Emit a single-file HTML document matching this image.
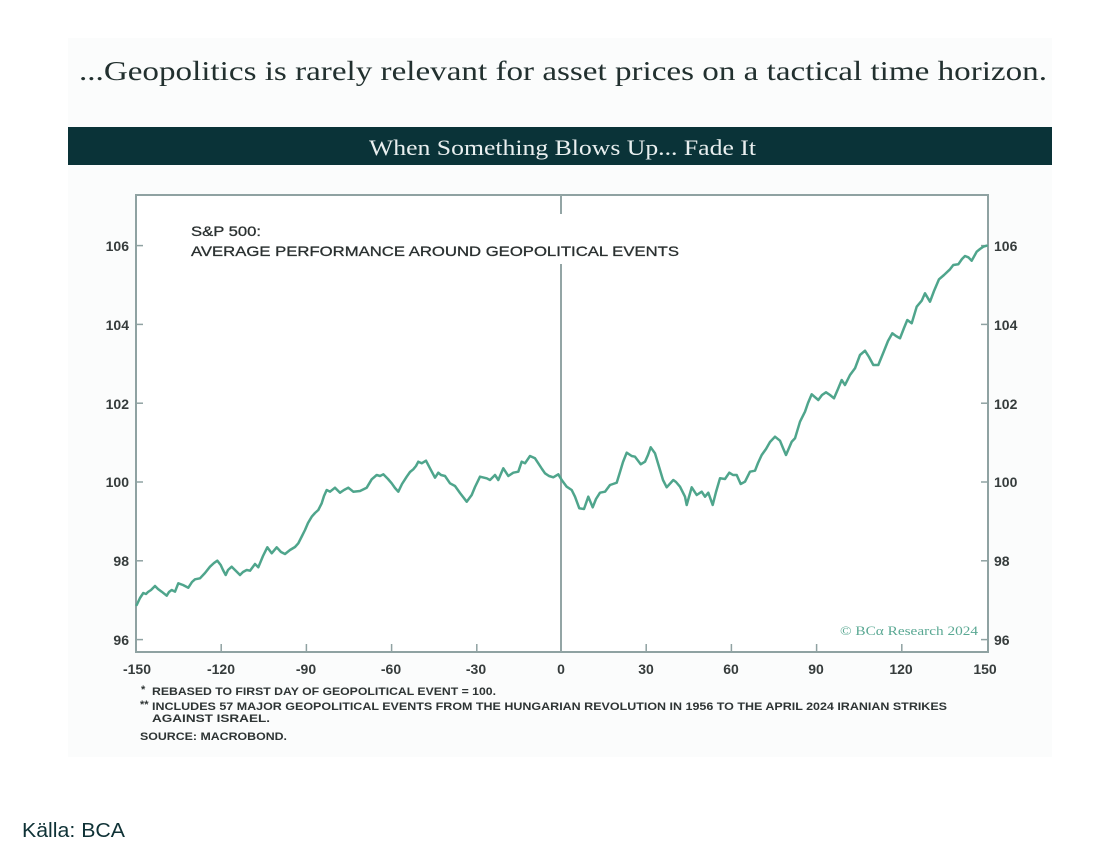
<!DOCTYPE html>
<html>
<head>
<meta charset="utf-8">
<style>
html,body{margin:0;padding:0;background:#ffffff;}
body{width:1115px;height:845px;overflow:hidden;position:relative;}
svg{position:absolute;left:0;top:0;}
</style>
</head>
<body>
<svg width="1115" height="845" viewBox="0 0 1115 845" xmlns="http://www.w3.org/2000/svg">
  <rect x="0" y="0" width="1115" height="845" fill="#ffffff"/>
  <!-- panel -->
  <rect x="68" y="38" width="984" height="719" fill="#fbfcfc"/>
  <!-- main title -->
  <text x="79" y="80" font-family="'Liberation Serif', serif" font-size="27" fill="#22302f" textLength="968" lengthAdjust="spacingAndGlyphs">...Geopolitics is rarely relevant for asset prices on a tactical time horizon.</text>
  <!-- band -->
  <rect x="68" y="127" width="984" height="38" fill="#0a3338"/>
  <text x="369" y="155" font-family="'Liberation Serif', serif" font-size="22" fill="#e9efef" textLength="387" lengthAdjust="spacingAndGlyphs">When Something Blows Up... Fade It</text>

  <!-- plot box -->
  <rect x="136" y="195" width="852" height="457" fill="#ffffff" stroke="#8fa2a2" stroke-width="2"/>
  <!-- zero vertical line -->
  <line x1="561" y1="195" x2="561" y2="214" stroke="#93a5a5" stroke-width="2"/>
  <line x1="561" y1="264" x2="561" y2="652" stroke="#93a5a5" stroke-width="2"/>

  <!-- y ticks -->
  <g stroke="#8fa2a2" stroke-width="1.5">
    <line x1="136" y1="245.6" x2="143" y2="245.6"/><line x1="981" y1="245.6" x2="988" y2="245.6"/>
    <line x1="136" y1="324.4" x2="143" y2="324.4"/><line x1="981" y1="324.4" x2="988" y2="324.4"/>
    <line x1="136" y1="403.2" x2="143" y2="403.2"/><line x1="981" y1="403.2" x2="988" y2="403.2"/>
    <line x1="136" y1="482" x2="143" y2="482"/><line x1="981" y1="482" x2="988" y2="482"/>
    <line x1="136" y1="560.8" x2="143" y2="560.8"/><line x1="981" y1="560.8" x2="988" y2="560.8"/>
    <line x1="136" y1="639.6" x2="143" y2="639.6"/><line x1="981" y1="639.6" x2="988" y2="639.6"/>
  </g>
  <!-- x ticks -->
  <g stroke="#8fa2a2" stroke-width="1.5">
    <line x1="221.2" y1="644" x2="221.2" y2="652"/>
    <line x1="306.4" y1="644" x2="306.4" y2="652"/>
    <line x1="391.6" y1="644" x2="391.6" y2="652"/>
    <line x1="476.8" y1="644" x2="476.8" y2="652"/>
    <line x1="646.2" y1="644" x2="646.2" y2="652"/>
    <line x1="731.4" y1="644" x2="731.4" y2="652"/>
    <line x1="816.6" y1="644" x2="816.6" y2="652"/>
    <line x1="901.8" y1="644" x2="901.8" y2="652"/>
  </g>

  <!-- y labels -->
  <g font-family="'Liberation Sans', sans-serif" font-size="14" fill="#363c3c" font-weight="bold">
    <text x="129" y="251" text-anchor="end">106</text>
    <text x="129" y="330" text-anchor="end">104</text>
    <text x="129" y="409" text-anchor="end">102</text>
    <text x="129" y="487" text-anchor="end">100</text>
    <text x="129" y="566" text-anchor="end">98</text>
    <text x="129" y="645" text-anchor="end">96</text>
    <text x="994" y="251">106</text>
    <text x="994" y="330">104</text>
    <text x="994" y="409">102</text>
    <text x="994" y="487">100</text>
    <text x="994" y="566">98</text>
    <text x="994" y="645">96</text>
  </g>
  <!-- x labels -->
  <g font-family="'Liberation Sans', sans-serif" font-size="14" fill="#363c3c" font-weight="bold" text-anchor="middle">
    <text x="137" y="674">-150</text>
    <text x="221" y="674">-120</text>
    <text x="306" y="674">-90</text>
    <text x="391" y="674">-60</text>
    <text x="476" y="674">-30</text>
    <text x="561" y="674">0</text>
    <text x="646" y="674">30</text>
    <text x="731" y="674">60</text>
    <text x="816" y="674">90</text>
    <text x="901" y="674">120</text>
    <text x="985" y="674">150</text>
  </g>

  <!-- chart title -->
  <g font-family="'Liberation Sans', sans-serif" font-size="14" fill="#2a3030" stroke="#2a3030" stroke-width="0.3">
    <text x="191" y="236" textLength="70" lengthAdjust="spacingAndGlyphs">S&amp;P 500:</text>
    <text x="191" y="256" textLength="488" lengthAdjust="spacingAndGlyphs">AVERAGE PERFORMANCE AROUND GEOPOLITICAL EVENTS</text>
  </g>

  <!-- watermark -->
  <text x="840" y="635" font-family="'Liberation Serif', serif" font-size="13" fill="#5aa893" textLength="138" lengthAdjust="spacingAndGlyphs">© BCα Research 2024</text>

  <!-- series -->
  <polyline fill="none" stroke="#4fa58c" stroke-width="2.5" stroke-linejoin="round" stroke-linecap="round" points="
136.7,605 140,598 143.3,593 146,594 148,592 151,590 155,586 158,589 161.7,591.7 166.7,595.7 169,592 171.7,590 175,591.7 178.3,583.3 183,585 188.3,587.7 192,582 195,579.3 200,578.3 205,573 210,566.7 214,563 217.3,560.7 220.7,565 223,570 225.7,575 228,570 231.7,566.7 236,571 240,575 243,572 246.7,570 250,570.7 255,564 258.3,567.3 263,556 267.3,547.3 271.7,553.3 276.7,547.3 281,552 285,554 290,550 295,547 298.3,543.3 302,536 305,530 308,523 311.7,516.7 315,513 318.3,510 321.7,503.3 324,496 326.7,490 330,491.7 335,487.7 340,492.7 344,490 348.3,487.7 353.3,491.7 360,491 366.7,487.7 371.7,479.3 376.7,475 380,476 383.3,474.3 388,479 391.7,483.3 395,488 398.3,491.7 402,484 406.7,476.7 410,472 413.3,469.3 416,466 418.3,461.7 421.7,463.3 426,460.7 430,468.3 435,477.7 438.3,472.7 441,475 445,476 450,483.3 455,486 460,493 466.7,501.7 471.7,495 475,487 480,476.7 486.7,478.3 490,480 495,475 498.3,480 503.3,468.3 508.3,476 513.3,472.7 518.3,471.7 521.7,461.7 525,463.3 530,456 535,458.3 538.3,463.3 542,469 545,473.3 549,476 553.3,477.3 558.3,474.3 561.7,480 566.7,486.7 571.7,490 575,496.7 579.3,508.3 584,509 588.3,496.7 592.7,507.3 596,499 600,492.7 605,491.7 610,485 613,484 616.7,482.7 620,472 623,462 626.7,452.7 631.7,456 635,456.7 640.7,464.3 645,461.7 648,455 650.7,447.3 655,453.3 660,470 663,480 666.7,487.3 673.3,480 676,482 680,486.7 685,496.7 686.7,505 691.7,487.3 696.7,495 701.7,491.7 705,496.7 708.3,492.7 712.7,505 716,492 720,478.3 725,479 729.3,472.7 733,475 736.7,475 740.7,484 745,481.7 750,471.7 755,470.7 758,463 761.7,455 766,449 770,442 775,436.7 780,440.7 783,448 786,455 791.7,441.7 795,438.3 800,421.7 805,411.7 808,403 811.7,394.3 818.3,400 822,395 826,392.3 830,395 834,398.3 838,389 841.7,380 845,385 850,375 855,368.3 860,355 865,350.7 869,357 873.3,365 878.3,365 884,351 888,341 892.3,333.3 896,336 900,338.3 904,328 907.3,320 911.7,323.3 916.7,306.7 921.7,300.7 925,293.3 930,301.7 934,291 939,279.3 944,275 950,269.3 953.3,265 958.3,264.3 962,259 965,256 968.3,257.3 971.7,260.7 976.7,251.7 980,249 983.3,246.7 986.7,245.7"/>

  <!-- footnotes -->
  <g font-family="'Liberation Sans', sans-serif" font-size="11" fill="#2e3434" font-weight="bold">
    <text x="141" y="693">*</text>
    <text x="152" y="695" textLength="344" lengthAdjust="spacingAndGlyphs">REBASED TO FIRST DAY OF GEOPOLITICAL EVENT = 100.</text>
    <text x="140" y="708">**</text>
    <text x="152" y="710" textLength="795" lengthAdjust="spacingAndGlyphs">INCLUDES 57 MAJOR GEOPOLITICAL EVENTS FROM THE HUNGARIAN REVOLUTION IN 1956 TO THE APRIL 2024 IRANIAN STRIKES</text>
    <text x="152" y="722" textLength="118" lengthAdjust="spacingAndGlyphs">AGAINST ISRAEL.</text>
    <text x="140" y="740" textLength="147" lengthAdjust="spacingAndGlyphs">SOURCE: MACROBOND.</text>
  </g>

  <!-- source -->
  <text x="22" y="837" font-family="'Liberation Sans', sans-serif" font-size="20" fill="#0f3236" textLength="103" lengthAdjust="spacingAndGlyphs">Källa: BCA</text>
</svg>
</body>
</html>
